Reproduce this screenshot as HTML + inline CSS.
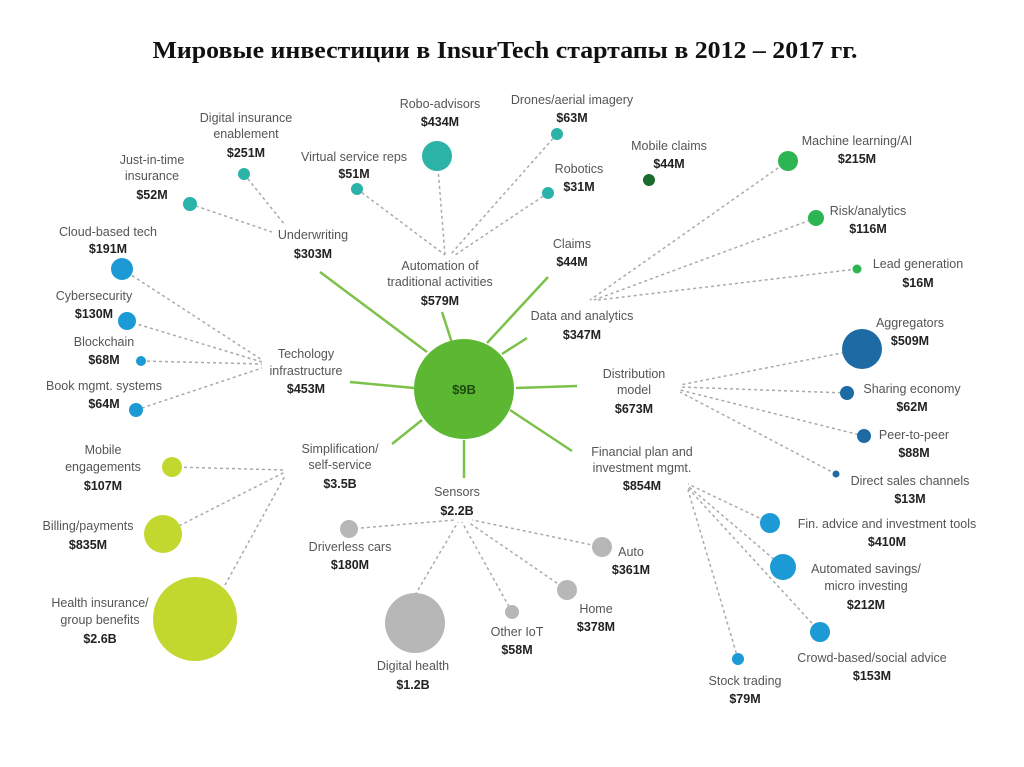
<!DOCTYPE html>
<html><head><meta charset="utf-8"><style>
html,body{margin:0;padding:0;background:#fff;}
svg{display:block;}
text{font-family:"Liberation Sans",sans-serif;font-size:12.5px;fill:#555;}
.b{font-weight:bold;fill:#222;}
</style></head><body>
<svg width="1024" height="767" viewBox="0 0 1024 767">
<text x="505" y="58" text-anchor="middle" textLength="705" lengthAdjust="spacingAndGlyphs" style="font-family:'Liberation Serif',serif;font-size:24px;font-weight:bold;fill:#111">Мировые инвестиции в InsurTech стартапы в 2012 – 2017 гг.</text>
<g stroke="#7cc24a" stroke-width="2.5">
<line x1="320" y1="272" x2="427" y2="352"/>
<line x1="442" y1="312" x2="452" y2="343"/>
<line x1="548" y1="277" x2="487" y2="343"/>
<line x1="527" y1="338" x2="502" y2="354"/>
<line x1="516" y1="388" x2="577" y2="386"/>
<line x1="510" y1="410" x2="572" y2="451"/>
<line x1="464" y1="440" x2="464" y2="478"/>
<line x1="422" y1="420" x2="392" y2="444"/>
<line x1="350" y1="382" x2="414" y2="388"/>
</g>
<g stroke="#aaa" stroke-width="1.5" stroke-dasharray="3,3" fill="none">
<line x1="244" y1="174" x2="285" y2="225"/><line x1="190" y1="204" x2="272" y2="232"/>
<line x1="357" y1="189" x2="445" y2="255"/><line x1="437" y1="156" x2="445" y2="255"/><line x1="557" y1="134" x2="450" y2="255"/><line x1="548" y1="193" x2="455" y2="255"/>
<line x1="788" y1="161" x2="590" y2="300"/><line x1="816" y1="218" x2="594" y2="300"/><line x1="857" y1="269" x2="598" y2="300"/>
<line x1="122" y1="269" x2="262" y2="360"/><line x1="127" y1="321" x2="262" y2="362"/><line x1="141" y1="361" x2="262" y2="364"/><line x1="136" y1="410" x2="262" y2="368"/>
<line x1="862" y1="349" x2="680" y2="385"/><line x1="847" y1="393" x2="680" y2="387"/><line x1="864" y1="436" x2="680" y2="390"/><line x1="836" y1="474" x2="680" y2="392"/>
<line x1="770" y1="523" x2="688" y2="484"/><line x1="783" y1="567" x2="688" y2="486"/><line x1="820" y1="632" x2="688" y2="488"/><line x1="738" y1="659" x2="688" y2="490"/>
<line x1="172" y1="467" x2="285" y2="470"/><line x1="163" y1="534" x2="285" y2="472"/><line x1="225" y1="585" x2="285" y2="476"/>
<line x1="349" y1="529" x2="455" y2="520"/><line x1="415" y1="595" x2="458" y2="522"/><line x1="512" y1="612" x2="462" y2="522"/><line x1="567" y1="590" x2="468" y2="522"/><line x1="602" y1="547" x2="472" y2="520"/>
</g>
<circle cx="464" cy="389" r="50" fill="#5cb832"/>
<text x="464" y="394" text-anchor="middle" class="b" style="font-size:13px;fill:#1f4a12">$9B</text>
<g fill="#2bb3a8"><circle cx="244" cy="174" r="6"/><circle cx="190" cy="204" r="7"/><circle cx="437" cy="156" r="15"/><circle cx="357" cy="189" r="6"/><circle cx="557" cy="134" r="6"/><circle cx="548" cy="193" r="6"/></g>
<circle cx="649" cy="180" r="6" fill="#1a6b2d"/>
<g fill="#2db552"><circle cx="788" cy="161" r="10"/><circle cx="816" cy="218" r="8"/><circle cx="857" cy="269" r="4.5"/></g>
<g fill="#1b9ad6"><circle cx="122" cy="269" r="11"/><circle cx="127" cy="321" r="9"/><circle cx="141" cy="361" r="5"/><circle cx="136" cy="410" r="7"/>
<circle cx="770" cy="523" r="10"/><circle cx="783" cy="567" r="13"/><circle cx="820" cy="632" r="10"/><circle cx="738" cy="659" r="6"/></g>
<g fill="#1d6aa5"><circle cx="862" cy="349" r="20"/><circle cx="847" cy="393" r="7"/><circle cx="864" cy="436" r="7"/><circle cx="836" cy="474" r="3.5"/></g>
<g fill="#c2d82f"><circle cx="172" cy="467" r="10"/><circle cx="163" cy="534" r="19"/><circle cx="195" cy="619" r="42"/></g>
<g fill="#b7b7b7"><circle cx="349" cy="529" r="9"/><circle cx="415" cy="623" r="30"/><circle cx="512" cy="612" r="7"/><circle cx="567" cy="590" r="10"/><circle cx="602" cy="547" r="10"/></g>
<g text-anchor="middle">
<text x="246" y="122">Digital insurance</text><text x="246" y="138">enablement</text><text x="246" y="157" class="b">$251M</text>
<text x="152" y="164">Just-in-time</text><text x="152" y="180">insurance</text><text x="152" y="199" class="b">$52M</text>
<text x="313" y="239">Underwriting</text><text x="313" y="258" class="b">$303M</text>
<text x="440" y="108">Robo-advisors</text><text x="440" y="126" class="b">$434M</text>
<text x="572" y="104">Drones/aerial imagery</text><text x="572" y="122" class="b">$63M</text>
<text x="354" y="161">Virtual service reps</text><text x="354" y="178" class="b">$51M</text>
<text x="579" y="173">Robotics</text><text x="579" y="191" class="b">$31M</text>
<text x="669" y="150">Mobile claims</text><text x="669" y="168" class="b">$44M</text>
<text x="440" y="270">Automation of</text><text x="440" y="286">traditional activities</text><text x="440" y="305" class="b">$579M</text>
<text x="572" y="248">Claims</text><text x="572" y="266" class="b">$44M</text>
<text x="582" y="320">Data and analytics</text><text x="582" y="339" class="b">$347M</text>
<text x="857" y="145">Machine learning/AI</text><text x="857" y="163" class="b">$215M</text>
<text x="868" y="215">Risk/analytics</text><text x="868" y="233" class="b">$116M</text>
<text x="918" y="268">Lead generation</text><text x="918" y="287" class="b">$16M</text>
<text x="108" y="236">Cloud-based tech</text><text x="108" y="253" class="b">$191M</text>
<text x="94" y="300">Cybersecurity</text><text x="94" y="318" class="b">$130M</text>
<text x="104" y="346">Blockchain</text><text x="104" y="364" class="b">$68M</text>
<text x="104" y="390">Book mgmt. systems</text><text x="104" y="408" class="b">$64M</text>
<text x="306" y="358">Techology</text><text x="306" y="375">infrastructure</text><text x="306" y="393" class="b">$453M</text>
<text x="634" y="378">Distribution</text><text x="634" y="394">model</text><text x="634" y="413" class="b">$673M</text>
<text x="910" y="327">Aggregators</text><text x="910" y="345" class="b">$509M</text>
<text x="912" y="393">Sharing economy</text><text x="912" y="411" class="b">$62M</text>
<text x="914" y="439">Peer-to-peer</text><text x="914" y="457" class="b">$88M</text>
<text x="910" y="485">Direct sales channels</text><text x="910" y="503" class="b">$13M</text>
<text x="642" y="456">Financial plan and</text><text x="642" y="472">investment mgmt.</text><text x="642" y="490" class="b">$854M</text>
<text x="887" y="528">Fin. advice and investment tools</text><text x="887" y="546" class="b">$410M</text>
<text x="866" y="573">Automated savings/</text><text x="866" y="590">micro investing</text><text x="866" y="609" class="b">$212M</text>
<text x="872" y="662">Crowd-based/social advice</text><text x="872" y="680" class="b">$153M</text>
<text x="745" y="685">Stock trading</text><text x="745" y="703" class="b">$79M</text>
<text x="340" y="453">Simplification/</text><text x="340" y="469">self-service</text><text x="340" y="488" class="b">$3.5B</text>
<text x="103" y="454">Mobile</text><text x="103" y="471">engagements</text><text x="103" y="490" class="b">$107M</text>
<text x="88" y="530">Billing/payments</text><text x="88" y="549" class="b">$835M</text>
<text x="100" y="607">Health insurance/</text><text x="100" y="624">group benefits</text><text x="100" y="643" class="b">$2.6B</text>
<text x="457" y="496">Sensors</text><text x="457" y="515" class="b">$2.2B</text>
<text x="350" y="551">Driverless cars</text><text x="350" y="569" class="b">$180M</text>
<text x="631" y="556">Auto</text><text x="631" y="574" class="b">$361M</text>
<text x="596" y="613">Home</text><text x="596" y="631" class="b">$378M</text>
<text x="517" y="636">Other IoT</text><text x="517" y="654" class="b">$58M</text>
<text x="413" y="670">Digital health</text><text x="413" y="689" class="b">$1.2B</text>
</g>
</svg>
</body></html>
